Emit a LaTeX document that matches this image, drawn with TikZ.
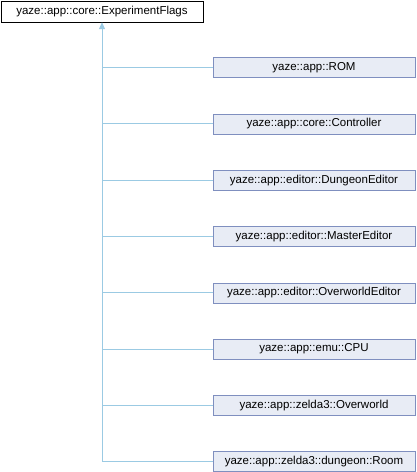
\documentclass[tikz,border=0pt]{standalone}
\usepackage{fontspec}
\setmainfont{Liberation Sans}
\usepackage{xcolor}
\usepackage{tikz}
\usetikzlibrary{
    positioning,
    arrows.meta
}
\definecolor{boxfill}{HTML}{E8ECF5}
\definecolor{boxline}{HTML}{7F8FBF}
\definecolor{linkline}{HTML}{9BCAE3}
\tikzset{
  basic/.style = {
      draw,
      rectangle,
      font=\fontsize{11.5}{13}\selectfont,
      minimum width=202pt,
      minimum height=20pt,
      inner sep=0pt,
      align=center
  },
  base/.style = {
      basic,
      fill=white,
      draw=black,
      minimum height=21pt
  },
  derived/.style = {
      basic,
      fill=boxfill,
      draw=boxline
  },
  edge/.style = {
      draw=linkline,
      line width=1pt
  },
  inherit/.style = {
      edge,
      -{Triangle[width=6pt,length=7pt]}
  }
}
\begin{document}
\begin{tikzpicture}[x=1pt, y=-1pt, node distance=56.3pt]
    \useasboundingbox (0,0) rectangle (416,472);
    \node[base] (flags) at (102,11.5) {yaze::app::core::ExperimentFlags};
    \node[derived] (rom) at (314,67.5) {yaze::app::ROM};
    \node[derived, below of=rom] (controller) {yaze::app::core::Controller};
    \node[derived, below of=controller] (dungeon) {yaze::app::editor::DungeonEditor};
    \node[derived, below of=dungeon] (master) {yaze::app::editor::MasterEditor};
    \node[derived, below of=master] (overworldeditor) {yaze::app::editor::OverworldEditor};
    \node[derived, below of=overworldeditor] (cpu) {yaze::app::emu::CPU};
    \node[derived, below of=cpu] (overworld) {yaze::app::zelda3::Overworld};
    \node[derived, below of=overworld] (room) {yaze::app::zelda3::dungeon::Room};
    % Edges
    \draw[inherit] (room.west) -| (flags.south);
    \foreach \child in {rom, controller, dungeon, master, overworldeditor, cpu, overworld}
        \draw[edge] (\child.west) -- (\child.west -| flags.south);
\end{tikzpicture}
\end{document}
